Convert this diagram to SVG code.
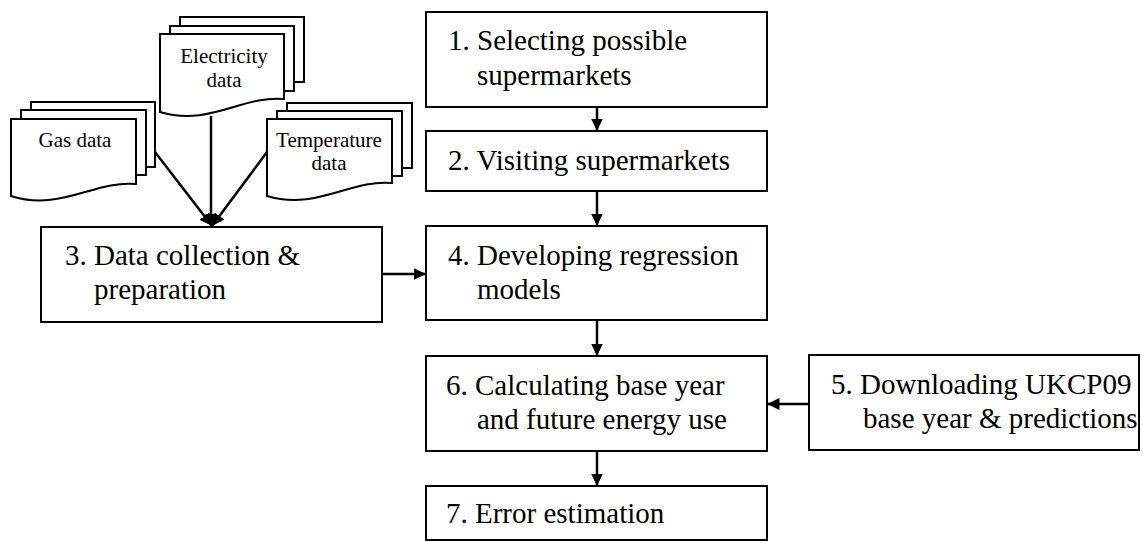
<svg xmlns="http://www.w3.org/2000/svg" width="1143" height="542" viewBox="0 0 1143 542">
  <defs>
    <style>
      .box { fill: #fff; stroke: #000; stroke-width: 2; }
      .sheet { fill: #fff; stroke: #000; stroke-width: 2; stroke-linejoin: miter; }
      text { font-family: 'Liberation Serif', 'DejaVu Serif', serif; fill: #000; }
      .lbl { font-size: 29px; }
      .doc { font-size: 21px; text-anchor: middle; }
      .wire { fill: none; stroke: #000; stroke-width: 2.5; }
    </style>
    <marker id="head" markerUnits="userSpaceOnUse" markerWidth="13" markerHeight="12" refX="12.5" refY="6" orient="auto">
      <path d="M0,0 L12.5,6 L0,12 Z" fill="#000"/>
    </marker>
  </defs>
  <rect width="1143" height="542" fill="#fff"/>

  <!-- data sources: stacked document sheets -->
  <g id="gas-data">
    <rect class="sheet" x="31" y="102" width="124" height="65"/>
    <rect class="sheet" x="21" y="110" width="125" height="65"/>
    <path class="sheet" d="M11,119 H136 V184 C95,180 60,212 11,196 Z"/>
    <text class="doc" x="75" y="147">Gas data</text>
  </g>
  <g id="electricity-data">
    <rect class="sheet" x="180" y="17" width="124" height="65"/>
    <rect class="sheet" x="170" y="26" width="124" height="65"/>
    <path class="sheet" d="M160,34 H284 V99 C243,95 209,127 160,112 Z"/>
    <text class="doc" x="224" y="63">Electricity</text>
    <text class="doc" x="224" y="87">data</text>
  </g>
  <g id="temperature-data">
    <rect class="sheet" x="287" y="103" width="125" height="65"/>
    <rect class="sheet" x="277" y="111" width="125" height="65"/>
    <path class="sheet" d="M267,119 H392 V183 C351,179 316,211 267,196 Z"/>
    <text class="doc" x="329" y="147">Temperature</text>
    <text class="doc" x="329" y="170">data</text>
  </g>

  <!-- process steps -->
  <g id="step1">
    <rect class="box" x="426" y="12" width="341" height="95"/>
    <text class="lbl" x="448" y="50">1. Selecting possible</text>
    <text class="lbl" x="477" y="85">supermarkets</text>
  </g>
  <g id="step2">
    <rect class="box" x="426" y="131" width="341" height="60"/>
    <text class="lbl" x="448" y="170">2. Visiting supermarkets</text>
  </g>
  <g id="step3">
    <rect class="box" x="41" y="227" width="341" height="95"/>
    <text class="lbl" x="65" y="265">3. Data collection &amp;</text>
    <text class="lbl" x="94" y="299">preparation</text>
  </g>
  <g id="step4">
    <rect class="box" x="426" y="226" width="341" height="94"/>
    <text class="lbl" x="448" y="265">4. Developing regression</text>
    <text class="lbl" x="477" y="299">models</text>
  </g>
  <g id="step5">
    <rect class="box" x="809" y="355" width="330" height="95"/>
    <text class="lbl" x="831" y="394">5. Downloading UKCP09</text>
    <text class="lbl" x="863" y="428">base year &amp; predictions</text>
  </g>
  <g id="step6">
    <rect class="box" x="426" y="356" width="341" height="95"/>
    <text class="lbl" x="446" y="395">6. Calculating base year</text>
    <text class="lbl" x="477" y="429">and future energy use</text>
  </g>
  <g id="step7">
    <rect class="box" x="426" y="486" width="341" height="54"/>
    <text class="lbl" x="446" y="523">7. Error estimation</text>
  </g>

  <!-- connectors -->
  <g id="connectors">
    <line class="wire" x1="155" y1="152" x2="212" y2="226" marker-end="url(#head)"/>
    <line class="wire" x1="211" y1="116" x2="211" y2="226" marker-end="url(#head)"/>
    <line class="wire" x1="267" y1="152" x2="212" y2="226" marker-end="url(#head)"/>
    <line class="wire" x1="597" y1="107" x2="597" y2="131" marker-end="url(#head)"/>
    <line class="wire" x1="597" y1="191" x2="597" y2="226" marker-end="url(#head)"/>
    <line class="wire" x1="382" y1="274" x2="426" y2="274" marker-end="url(#head)"/>
    <line class="wire" x1="597" y1="320" x2="597" y2="356" marker-end="url(#head)"/>
    <line class="wire" x1="809" y1="404" x2="767" y2="404" marker-end="url(#head)"/>
    <line class="wire" x1="597" y1="451" x2="597" y2="486" marker-end="url(#head)"/>
  </g>
</svg>
